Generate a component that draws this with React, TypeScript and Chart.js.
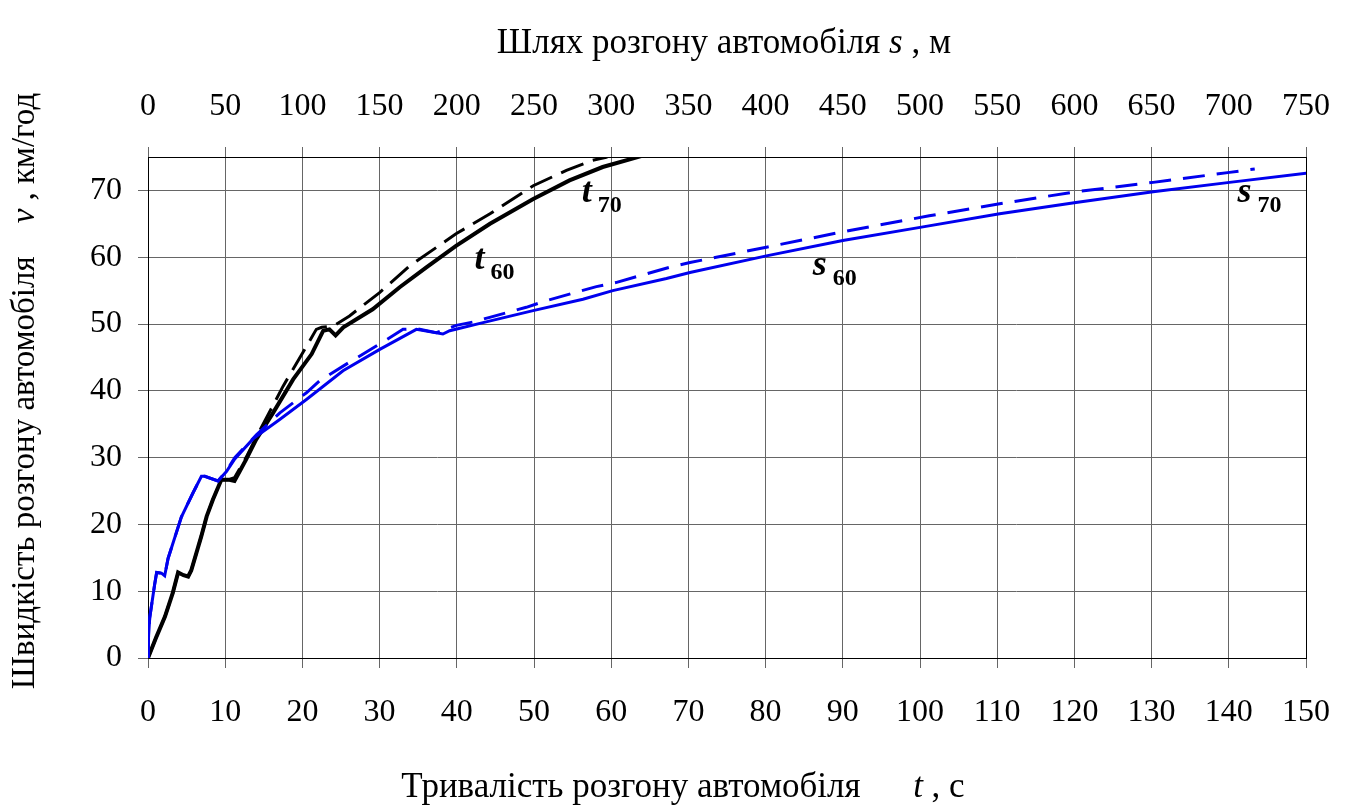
import React, { useEffect, useRef } from 'react';
import { Chart, registerables } from 'chart.js';

Chart.register(...registerables);

const FONT = '"Liberation Serif", "Times New Roman", serif';

// Tick labels
const timeTicks = [0, 10, 20, 30, 40, 50, 60, 70, 80, 90, 100, 110, 120, 130, 140, 150];
const distanceTicks = [0, 50, 100, 150, 200, 250, 300, 350, 400, 450, 500, 550, 600, 650, 700, 750];
const speedTicks = [0, 10, 20, 30, 40, 50, 60, 70];

// Black solid: speed vs time (s, km/h)
const timeSolidT = [0, 1.1, 2.2, 3.2, 3.9, 4.6, 5.2, 5.6, 6.9, 7.6, 8.4, 9.5, 10.4, 11.2, 11.9, 12.7, 14.0, 16.2, 18.8, 21.2, 22.7, 23.5, 24.3, 25.3, 29.1, 32.6, 36.1, 39.9, 44.3, 49.9, 54.6, 58.9, 64.1];
const timeSolidV = [0, 3.2, 6.2, 9.7, 12.8, 12.4, 12.2, 13.1, 18.2, 21.2, 23.7, 26.7, 26.7, 26.5, 28.0, 29.7, 32.7, 36.7, 41.7, 45.5, 49.0, 49.2, 48.3, 49.5, 52.2, 55.5, 58.5, 61.7, 65.0, 68.7, 71.5, 73.5, 75.2];

// Black dashed: speed vs time
const timeDashedT = [0, 1.1, 2.2, 3.2, 3.9, 5.2, 5.6, 6.9, 7.6, 8.4, 9.5, 10.4, 11.2, 12.7, 14.0, 16.6, 17.5, 20.1, 21.8, 22.5, 24.0, 26.1, 30.0, 33.9, 39.9, 44.3, 49.9, 54.2, 57.6, 59.5];
const timeDashedV = [0, 3.2, 6.2, 9.7, 12.8, 12.2, 13.1, 18.2, 21.2, 23.7, 26.7, 26.7, 27.0, 30.0, 33.0, 38.7, 40.7, 45.8, 49.2, 49.5, 49.7, 51.2, 54.7, 58.7, 63.5, 66.5, 70.7, 73.0, 74.5, 75.0];

// Blue solid: speed vs distance (m, km/h)
const distSolidS = [0, 0.3, 1.1, 4.3, 5.6, 8.7, 10.8, 13.0, 21.6, 29.1, 34.6, 36.8, 45.3, 50.8, 56.2, 68.0, 85.3, 102.6, 126.3, 150.1, 173.8, 191.0, 195.4, 217.0, 249.4, 281.7, 301.0, 335.8, 351.0, 400.5, 450.0, 501.0, 551.6, 601.0, 651.0, 700.5, 751.0];
const distSolidV = [0, 3.0, 6.0, 11.0, 12.8, 12.7, 12.3, 14.9, 21.1, 24.7, 27.2, 27.2, 26.5, 27.9, 29.8, 32.8, 35.7, 38.7, 43.0, 46.2, 49.2, 48.5, 49.0, 50.2, 52.0, 53.7, 55.0, 56.8, 57.7, 60.2, 62.5, 64.5, 66.5, 68.2, 69.8, 71.2, 72.6];

// Blue dashed: speed vs distance
const distDashedS = [0, 0.3, 1.1, 4.3, 5.6, 8.7, 10.8, 13.0, 21.6, 29.1, 34.6, 36.8, 45.3, 50.8, 56.2, 70.2, 85.4, 102.6, 111.2, 130.6, 152.2, 165.2, 173.8, 186.8, 199.7, 210.5, 221.3, 245.0, 258.0, 290.4, 303.0, 337.9, 351.0, 400.5, 443.6, 454.5, 506.0, 551.6, 601.0, 651.0, 700.5, 716.8];
const distDashedV = [0, 3.0, 6.0, 11.0, 12.8, 12.7, 12.3, 14.9, 21.1, 24.7, 27.2, 27.2, 26.5, 28.0, 30.0, 33.4, 36.7, 39.7, 41.5, 44.3, 47.3, 49.2, 49.3, 48.7, 49.8, 50.3, 51.0, 52.5, 53.5, 55.6, 56.2, 58.5, 59.2, 61.5, 63.5, 64.0, 66.2, 68.0, 69.8, 71.2, 72.7, 73.2];

// Curve labels: letter, subscript, axis, x value, y value (baseline)
const curveLabelText = ['t', 't', 's', 's'];
const curveLabelSub = ['70', '60', '60', '70'];
const curveLabelAxis = ['x', 'x', 'x2', 'x2'];
const curveLabelX = [56.2, 42.3, 430.5, 705.6];
const curveLabelY = [68.3, 58.2, 57.4, 68.3];

const toPoints = (xs: number[], ys: number[]) => xs.map((x, i) => ({ x, y: ys[i] }));

type Part = [string, string];

function drawRich(ctx: CanvasRenderingContext2D, parts: Part[], cx: number, by: number) {
  let total = 0;
  const widths: number[] = [];
  for (const [t, f] of parts) {
    ctx.font = f;
    const w = ctx.measureText(t).width;
    widths.push(w);
    total += w;
  }
  let xx = cx - total / 2;
  parts.forEach(([t, f], i) => {
    ctx.font = f;
    ctx.fillText(t, xx, by);
    xx += widths[i];
  });
}

const textPlugin = {
  id: 'richTexts',
  beforeDatasetsDraw(chart: any) {
    const ctx: CanvasRenderingContext2D = chart.ctx;
    const a = chart.chartArea;
    ctx.save();
    ctx.strokeStyle = '#000';
    ctx.lineWidth = 1;
    ctx.strokeRect(Math.round(a.left) + 0.5, Math.round(a.top) + 0.5, Math.round(a.right - a.left), Math.round(a.bottom - a.top));
    ctx.restore();
  },
  afterDraw(chart: any) {
    const ctx: CanvasRenderingContext2D = chart.ctx;
    ctx.save();
    ctx.fillStyle = '#000';
    ctx.textBaseline = 'alphabetic';
    ctx.textAlign = 'left';
    const reg = `35px ${FONT}`;
    const ital = `italic 35px ${FONT}`;
    drawRich(ctx, [['Шлях розгону автомобіля ', reg], ['s', ital], [' , м', reg]], 724, 53);
    drawRich(ctx, [['Тривалість розгону автомобіля      ', reg], ['t', ital], [' , с', reg]], 683, 797);
    const regY = `33px ${FONT}`;
    const italY = `italic 33px ${FONT}`;
    ctx.save();
    ctx.translate(34, 391);
    ctx.rotate(-Math.PI / 2);
    drawRich(ctx, [['Швидкість розгону автомобіля    ', regY], ['v', italY], [' , км/год', regY]], 0, 0);
    ctx.restore();

    curveLabelText.forEach((letter, i) => {
      const xs = chart.scales[curveLabelAxis[i]];
      const px = xs.getPixelForValue(curveLabelX[i]);
      const py = chart.scales.y.getPixelForValue(curveLabelY[i]);
      ctx.font = `bold italic 36px ${FONT}`;
      ctx.fillText(letter, px, py);
      const w = ctx.measureText(letter).width;
      ctx.font = `bold 24px ${FONT}`;
      ctx.fillText(curveLabelSub[i], px + w + 6, py + 10);
    });
    ctx.restore();
  },
};

export default function App() {
  const ref = useRef<HTMLCanvasElement | null>(null);

  useEffect(() => {
    if (!ref.current) return;
    const tickFont = { family: FONT, size: 32 };
    const chart = new Chart(ref.current, {
      type: 'line',
      data: {
        datasets: [
          {
            data: toPoints(distSolidS, distSolidV),
            xAxisID: 'x2',
            borderColor: '#0000ee',
            borderWidth: 3,
            pointRadius: 0,
            tension: 0,
          },
          {
            data: toPoints(distDashedS, distDashedV),
            xAxisID: 'x2',
            borderColor: '#0000ee',
            borderWidth: 3,
            borderDash: [22, 12],
            pointRadius: 0,
            tension: 0,
          },
          {
            data: toPoints(timeDashedT, timeDashedV),
            xAxisID: 'x',
            borderColor: '#000',
            borderWidth: 3,
            borderDash: [24, 10],
            pointRadius: 0,
            tension: 0,
          },
          {
            data: toPoints(timeSolidT, timeSolidV),
            xAxisID: 'x',
            borderColor: '#000',
            borderWidth: 4,
            pointRadius: 0,
            tension: 0,
          },
        ],
      },
      options: {
        animation: false,
        responsive: false,
        devicePixelRatio: 1,
        layout: { padding: { left: 0, right: 39, top: 0, bottom: 0 } },
        plugins: {
          legend: { display: false },
          tooltip: { enabled: false },
          title: { display: false },
        },
        scales: {
          x: {
            type: 'linear',
            position: 'bottom',
            min: 0,
            max: 150,
            afterBuildTicks: (s: any) => {
              s.ticks = timeTicks.map((v) => ({ value: v }));
            },
            afterFit: (s: any) => {
              s.height = 149;
              s.paddingLeft = 0;
              s.paddingRight = 0;
            },
            grid: { color: '#666', lineWidth: 1, tickLength: 10 },
            border: { display: false },
            ticks: { font: tickFont, color: '#000', padding: 25, maxRotation: 0, autoSkip: false },
          },
          x2: {
            type: 'linear',
            position: 'top',
            min: 0,
            max: 750,
            afterBuildTicks: (s: any) => {
              s.ticks = distanceTicks.map((v) => ({ value: v }));
            },
            afterFit: (s: any) => {
              s.height = 157;
              s.paddingLeft = 0;
              s.paddingRight = 0;
            },
            grid: { drawOnChartArea: false, color: '#666', lineWidth: 1, tickLength: 10 },
            border: { display: false },
            ticks: { font: tickFont, color: '#000', padding: 21, maxRotation: 0, autoSkip: false },
          },
          y: {
            type: 'linear',
            min: 0,
            max: 75,
            afterBuildTicks: (s: any) => {
              s.ticks = speedTicks.map((v) => ({ value: v }));
            },
            afterFit: (s: any) => {
              s.width = 148;
              s.paddingTop = 0;
              s.paddingBottom = 0;
            },
            grid: { color: '#666', lineWidth: 1, tickLength: 10 },
            border: { display: false },
            ticks: { font: tickFont, color: '#000', padding: 16 },
          },
        },
      },
      plugins: [textPlugin],
    } as any);
    return () => chart.destroy();
  }, []);

  return (
    <div style={{ position: 'fixed', left: 0, top: 0, width: 1345, height: 807, background: '#fff' }}>
      <canvas ref={ref} width={1345} height={807} style={{ width: 1345, height: 807 }} />
    </div>
  );
}
